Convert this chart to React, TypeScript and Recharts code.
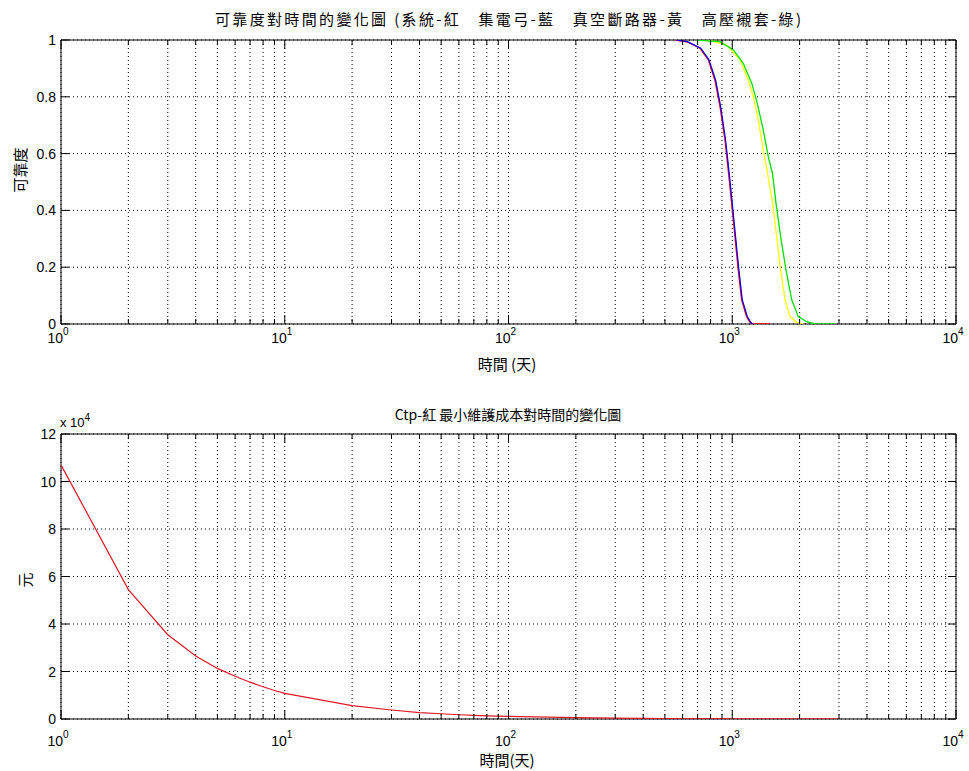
import React from 'react';
import { LineChart, Line, XAxis, YAxis, CartesianGrid } from 'recharts';

// ---------- tick values ----------
const xTicks = [
  1, 2, 3, 4, 5, 6, 7, 8, 9,
  10, 20, 30, 40, 50, 60, 70, 80, 90,
  100, 200, 300, 400, 500, 600, 700, 800, 900,
  1000, 2000, 3000, 4000, 5000, 6000, 7000, 8000, 9000,
  10000,
];
const relTicks = [0, 0.2, 0.4, 0.6, 0.8, 1];
const relLabels = ['0', '0.2', '0.4', '0.6', '0.8', '1'];
const costTicks = [0, 20000, 40000, 60000, 80000, 100000, 120000];
const costLabels = ['0', '2', '4', '6', '8', '10', '12'];

// ---------- reliability curves (days, reliability) ----------
const sysT = [555, 626, 718, 782, 837, 882, 928, 960, 994, 1029, 1064, 1102, 1160, 1200, 1225, 1475];
const sysR = [1.0, 0.994, 0.971, 0.93, 0.859, 0.765, 0.648, 0.542, 0.425, 0.307, 0.19, 0.085, 0.026, 0.006, 0.0, 0.0];

const bowT = [560, 631, 723, 787, 843, 888, 934, 966, 1000, 1035, 1071, 1109, 1168, 1208, 1233];
const bowR = [1.0, 0.994, 0.971, 0.93, 0.859, 0.765, 0.648, 0.542, 0.425, 0.307, 0.19, 0.085, 0.026, 0.006, 0.0];

const vcbT = [782, 945, 1083, 1179, 1242, 1308, 1368, 1430, 1516, 1580, 1646, 1721, 1812, 1942, 2071];
const vcbR = [1.0, 0.982, 0.93, 0.859, 0.8, 0.718, 0.624, 0.542, 0.425, 0.307, 0.19, 0.085, 0.026, 0.006, 0.0];

const bushT = [694, 882, 1011, 1120, 1222, 1294, 1376, 1449, 1513, 1569, 1646, 1739, 1844, 1973, 2151, 2343, 2879];
const bushR = [1.0, 0.994, 0.965, 0.918, 0.848, 0.777, 0.683, 0.589, 0.53, 0.425, 0.307, 0.19, 0.085, 0.026, 0.008, 0.0, 0.0];

// ---------- minimum maintenance cost Ctp (days, 元) ----------
const costT = [1, 2, 3, 4, 5, 6, 7, 8, 9, 10, 20, 30, 40, 50, 60, 70, 80, 90, 100, 200, 300, 400, 500, 600, 700, 800, 900, 1000, 2000, 3000];
const costV = [107000, 54500, 35500, 26500, 21300, 18000, 15500, 13600, 12000, 10800, 5600, 3800, 2700, 2200, 1800, 1550, 1350, 1200, 1080, 540, 360, 270, 215, 180, 155, 135, 120, 108, 54, 36];

const zip = (ts: number[], vs: number[]) => ts.map((t, i) => ({ t, v: vs[i] }));
const sysData = zip(sysT, sysR);
const bowData = zip(bowT, bowR);
const vcbData = zip(vcbT, vcbR);
const bushData = zip(bushT, bushR);
const costData = zip(costT, costV);

const NUM_FONT = "'Liberation Sans Narrow', 'Liberation Sans', Arial, sans-serif";
const CJK_FONT = "'Noto Sans CJK TC', 'Noto Sans CJK SC', sans-serif";

const isPow10 = (v: number) => {
  const l = Math.log10(v);
  return Math.abs(l - Math.round(l)) < 1e-9;
};

const makeBottomXTick = (labelDy: number) => (props: any) => {
  const { x, y, payload } = props;
  const v = payload.value;
  const major = isPow10(v);
  const exp = Math.round(Math.log10(v));
  return (
    <g>
      <line x1={x} x2={x} y1={y} y2={y - (major ? 9 : 5)} stroke="#000" strokeWidth={1} />
      {major && (
        <text x={x - 3} y={y + labelDy} textAnchor="middle" fontFamily={NUM_FONT} fontSize={14} fill="#000">
          10
          <tspan dy={-8} fontSize={10}>{exp}</tspan>
        </text>
      )}
    </g>
  );
};

const TopXTick = (props: any) => {
  const { x, y, payload } = props;
  const major = isPow10(payload.value);
  return <line x1={x} x2={x} y1={y} y2={y + (major ? 9 : 5)} stroke="#000" strokeWidth={1} />;
};

const makeLeftYTick = (ticks: number[], labels: string[]) => (props: any) => {
  const { x, y, payload } = props;
  const idx = ticks.indexOf(payload.value);
  return (
    <g>
      <line x1={x} x2={x + 8} y1={y} y2={y} stroke="#000" strokeWidth={1} />
      <text x={x - 5} y={y + 5} textAnchor="end" fontFamily={NUM_FONT} fontSize={14} fill="#000">
        {idx >= 0 ? labels[idx] : ''}
      </text>
    </g>
  );
};

const RightYTick = (props: any) => {
  const { x, y } = props;
  return <line x1={x} x2={x - 8} y1={y} y2={y} stroke="#000" strokeWidth={1} />;
};

const W = 969;

function Frame({ yDomain, yTicks, yLabels, xLabelDy }: any) {
  return [
    <CartesianGrid key="g" stroke="#000" strokeDasharray="1 3" strokeWidth={1} />,
    <XAxis
      key="xb"
      xAxisId={0}
      type="number"
      dataKey="t"
      scale="log"
      domain={[1, 10000]}
      ticks={xTicks}
      interval={0}
      allowDataOverflow
      height={1}
      tickSize={0}
      tickMargin={0}
      tickLine={false}
      axisLine={{ stroke: '#000', strokeWidth: 1 }}
      tick={makeBottomXTick(xLabelDy)}
    />,
    <XAxis
      key="xt"
      xAxisId="top"
      orientation="top"
      type="number"
      dataKey="t"
      scale="log"
      domain={[1, 10000]}
      ticks={xTicks}
      interval={0}
      allowDataOverflow
      height={1}
      tickSize={0}
      tickMargin={0}
      tickLine={false}
      axisLine={{ stroke: '#000', strokeWidth: 1 }}
      tick={<TopXTick />}
    />,
    <YAxis
      key="yl"
      yAxisId={0}
      type="number"
      domain={yDomain}
      ticks={yTicks}
      interval={0}
      allowDataOverflow
      width={1}
      tickSize={0}
      tickMargin={0}
      tickLine={false}
      axisLine={{ stroke: '#000', strokeWidth: 1 }}
      tick={makeLeftYTick(yTicks, yLabels)}
    />,
    <YAxis
      key="yr"
      yAxisId="right"
      orientation="right"
      type="number"
      domain={yDomain}
      ticks={yTicks}
      interval={0}
      allowDataOverflow
      width={1}
      tickSize={0}
      tickMargin={0}
      tickLine={false}
      axisLine={{ stroke: '#000', strokeWidth: 1 }}
      tick={<RightYTick />}
    />,
  ];
}

const lineProps = { type: 'linear' as const, dot: false, isAnimationActive: false, zIndex: 600 };

export default function App() {
  return (
    <div style={{ position: 'absolute', left: 0, top: 0, width: W, height: 771, background: '#fff', overflow: 'hidden' }}>
      <div style={{ position: 'absolute', left: 0, top: 0 }}>
        <LineChart width={W} height={385} margin={{ top: 39, right: 12, bottom: 60, left: 60 }}>
          {Frame({ yDomain: [0, 1], yTicks: relTicks, yLabels: relLabels, xLabelDy: 19 })}
          <Line {...lineProps} data={sysData} dataKey="v" stroke="#ff0000" strokeWidth={1.4} />
          <Line {...lineProps} data={bowData} dataKey="v" stroke="#0000ff" strokeWidth={1.2} />
          <Line {...lineProps} data={vcbData} dataKey="v" stroke="#ffff00" strokeWidth={1.3} />
          <Line {...lineProps} data={bushData} dataKey="v" stroke="#00e000" strokeWidth={1.3} />
        </LineChart>
      </div>
      <div style={{ position: 'absolute', left: 0, top: 385 }}>
        <LineChart width={W} height={386} margin={{ top: 48, right: 12, bottom: 51, left: 60 }}>
          {Frame({ yDomain: [0, 120000], yTicks: costTicks, yLabels: costLabels, xLabelDy: 27 })}
          <Line {...lineProps} data={costData} dataKey="v" stroke="#dd1a26" strokeWidth={1.2} />
        </LineChart>
      </div>
      <svg width={W} height={771} style={{ position: 'absolute', left: 0, top: 0, pointerEvents: 'none' }}>
        <text x={508} y={25} textAnchor="middle" fontFamily={CJK_FONT} fontSize={15} fill="#000" textLength={586} lengthAdjust="spacing" style={{ whiteSpace: 'pre' }}>
          可靠度對時間的變化圖 (系統-紅　集電弓-藍　真空斷路器-黃　高壓襯套-綠)
        </text>
        <text x={507} y={370} textAnchor="middle" fontFamily={CJK_FONT} fontSize={15} fill="#000">時間 (天)</text>
        <text transform="translate(26,170) rotate(-90)" textAnchor="middle" fontFamily={CJK_FONT} fontSize={15} fill="#000">可靠度</text>

        <text x={508} y={420} textAnchor="middle" fontFamily={CJK_FONT} fontSize={14} fill="#000">Ctp-紅 最小維護成本對時間的變化圖</text>
        <text x={60} y={427} fontFamily={NUM_FONT} fontSize={13} fill="#000">
          x 10
          <tspan dy={-6} fontSize={10}>4</tspan>
        </text>
        <text transform="translate(31,580) rotate(-90)" textAnchor="middle" fontFamily={CJK_FONT} fontSize={15} fill="#000">元</text>
        <text x={507} y={766} textAnchor="middle" fontFamily={CJK_FONT} fontSize={15} fill="#000">時間(天)</text>
      </svg>
    </div>
  );
}
